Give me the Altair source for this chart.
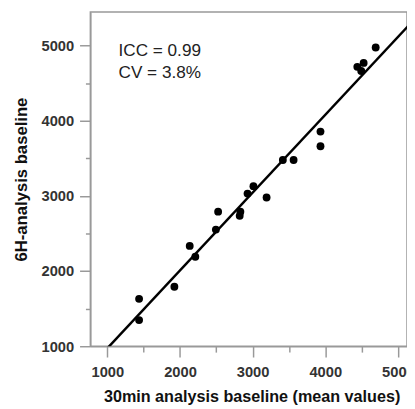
import altair as alt
import pandas as pd

# Data
x_vals = [4694, 4441, 4528, 4495, 3934, 3934, 3416, 3564, 3011, 2930,
          3192, 2525, 2831, 2822, 2494, 2134, 2211, 1923, 1437, 1437]
y_vals = [4973, 4716, 4768, 4660, 3855, 3660, 3477, 3477, 3129, 3030,
          2978, 2790, 2790, 2734, 2551, 2334, 2190, 1791, 1630, 1348]

x_major = [1000, 2000, 3000, 4000, 5000]
x_minor = [1500, 2500, 3500, 4500]
y_major = [1000, 2000, 3000, 4000, 5000]
y_minor = [1500, 2500, 3500, 4500]

ann_text = ["ICC = 0.99", "CV = 3.8%"]
ann_x = [1154, 1154]
ann_y = [4855, 4572]

pts = pd.DataFrame({"x": x_vals, "y": y_vals})
ann = pd.DataFrame({"x": ann_x, "y": ann_y, "t": ann_text})

FONT = "Liberation Sans"
AX = "#999"

xscale = alt.Scale(domain=[766, 5125], nice=False, zero=False)
yscale = alt.Scale(domain=[1000, 5446], nice=False, zero=False)

xaxis = alt.Axis(
    orient="bottom", values=x_major, format="d", tickSize=11,
    labelFlush=False, labelOverlap=False, grid=False,
    title="30min analysis baseline (mean values)",
    titleX=164.5, titleY=56, titleBaseline="alphabetic",
    titleFontSize=16.5, titleFont=FONT, titleFontWeight="bold", titleColor="#111",
    labelFont=FONT, labelFontSize=15, labelFontWeight="bold", labelColor="#333",
    labelPadding=8,
    domainColor=AX, domainWidth=1.5, tickColor=AX, tickWidth=1.5,
)
yaxis = alt.Axis(
    orient="left", values=y_major, format="d", tickSize=11,
    labelFlush=False, labelOverlap=False, grid=False,
    title="6H-analysis baseline",
    titleX=-65, titleBaseline="alphabetic", titleAngle=270,
    titleFontSize=17, titleFont=FONT, titleFontWeight="bold", titleColor="#111",
    labelFont=FONT, labelFontSize=15, labelFontWeight="bold", labelColor="#333",
    labelPadding=6,
    domainColor=AX, domainWidth=1.5, tickColor=AX, tickWidth=1.5,
)
xaxis_minor = alt.Axis(
    orient="bottom", values=x_minor, tickSize=6, labels=False, domain=False,
    grid=False, title=None, tickColor=AX, tickWidth=1.5,
)
yaxis_minor = alt.Axis(
    orient="left", values=y_minor, tickSize=5, labels=False, domain=False,
    grid=False, title=None, tickColor=AX, tickWidth=1.5,
)

line = alt.Chart(pts).transform_regression(
    "x", "y", extent=[900, 5400]
).mark_line(color="black", strokeWidth=2.5, clip=True).encode(
    x=alt.X("x:Q", scale=xscale, axis=xaxis_minor),
    y=alt.Y("y:Q", scale=yscale, axis=yaxis_minor),
)

points = alt.Chart(pts).mark_circle(size=64, color="black", opacity=1).encode(
    x=alt.X("x:Q", scale=xscale, axis=xaxis),
    y=alt.Y("y:Q", scale=yscale, axis=yaxis),
)

text = alt.Chart(ann).mark_text(
    align="left", baseline="alphabetic", font=FONT, fontSize=17.5, color="#222"
).encode(
    x=alt.X("x:Q", scale=xscale, axis=None),
    y=alt.Y("y:Q", scale=yscale, axis=None),
    text="t:N",
)

chart = alt.layer(line, points, text).resolve_axis(
    x="independent", y="independent"
).properties(
    width=323, height=341,
    autosize=alt.AutoSizeParams(type="none"),
    padding={"left": 84, "top": 0, "right": 0, "bottom": 60},
).configure_view(stroke=AX, strokeWidth=1.5)

chart.save("out.html", embed_options={"renderer": "svg", "actions": False})
